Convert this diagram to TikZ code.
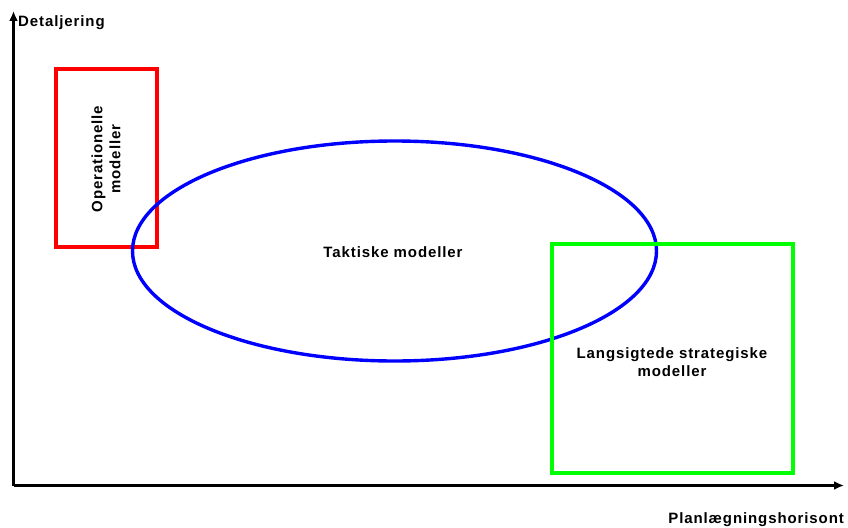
\documentclass[tikz,border=0pt]{standalone}
\usepackage{fontspec}
\setmainfont{Liberation Sans}[LetterSpace=6]
\usepackage{tikz}
\usetikzlibrary{arrows.meta, positioning, shapes.geometric}
\usepackage{xcolor}
\definecolor{oprred}{rgb}{1.0, 0.0, 0.0}
\definecolor{taktblue}{rgb}{0.0, 0.0, 1.0}
\definecolor{langgreen}{rgb}{0.0, 1.0, 0.0}

\begin{document}
\begin{tikzpicture}[
			x=1pt, y=-1pt,
			every node/.style={font=\bfseries\fontsize{15}{18}\selectfont, text=black},
			axisstyle/.style={-{Latex[length=10pt, width=9pt]}, line width=2.6pt, black},
			modelbox/.style={draw, line width=3.4pt, inner sep=0pt}
		]
		\useasboundingbox (0,0) rectangle (848,527);
		\coordinate (origin) at (13.5,485.5);
		\coordinate (ytop) at (13.5,11);
		\coordinate (xend) at (844,485.5);
		\draw[axisstyle] (origin) -- (ytop);
		\draw[axisstyle] (origin) -- (xend);
		\node[anchor=base west, inner sep=0pt] (ylabel) at (18,27) {Detaljering};
		\node[anchor=base east, inner sep=0pt] (xlabel) at (844,523) {Planlægningshorisont};
		% modeller
		\node[modelbox, draw=oprred, minimum width=101pt, minimum height=178pt] (opr) at (106.5,158) {};
		\node[rotate=90, align=center] (oprtext) at (106,159) {Operationelle\\modeller};
		\node[modelbox, draw=taktblue, ellipse, minimum width=524pt, minimum height=220pt] (takt) at (394.5,251) {};
		\node (takttext) at (393,252) {Taktiske modeller};
		\node[modelbox, draw=langgreen, minimum width=241pt, minimum height=229pt] (lang) at (672.5,358.5) {};
		\node[align=center] (langtext) at (672,362) {Langsigtede strategiske\\modeller};
	\end{tikzpicture}
\end{document}
